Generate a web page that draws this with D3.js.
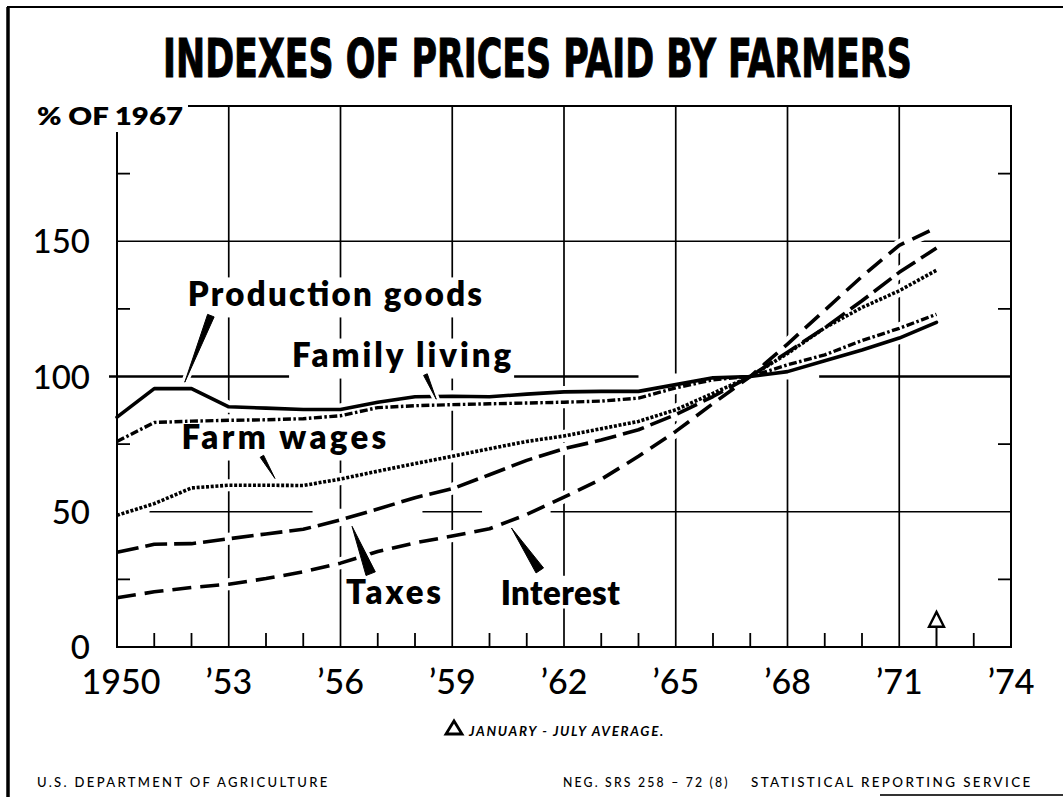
<!DOCTYPE html>
<html>
<head>
<meta charset="utf-8">
<script src="https://cdn.jsdelivr.net/npm/d3@7/dist/d3.min.js"></script>
<style>
  body { margin: 0; background: #fff; }
  svg { display: block; }
</style>
</head>
<body>
<div id="chart"></div>
<script>
// Data (1967 = 100)
const years = [1950, 1951, 1952, 1953, 1954, 1955, 1956, 1957, 1958, 1959, 1960, 1961,
               1962, 1963, 1964, 1965, 1966, 1967, 1968, 1969, 1970, 1971, 1972];
const productionGoods = [85, 95.5, 95.5, 88.8, 88.3, 87.8, 87.8, 90.5, 92.5, 92.7, 92.5, 93.5,
                         94.3, 94.5, 94.5, 97, 99.5, 100, 101.8, 105.8, 109.8, 114.2, 120];
const familyLiving = [76, 83, 83.5, 83.8, 84, 84.4, 85.5, 88.5, 89.2, 89.6, 89.9, 90.2,
                      90.5, 90.9, 92, 95.8, 98.8, 100, 104.3, 108, 113.3, 117.8, 123];
const farmWages = [48.7, 53, 58.8, 59.8, 59.8, 59.7, 62.1, 65, 67.8, 70.5, 73.3, 76,
                   78, 80.7, 83.4, 87.7, 93.8, 100, 108.5, 118, 125.5, 131.7, 139.3];
const taxes = [35, 38, 38.2, 40, 41.8, 43.5, 47, 51, 55.2, 58.5, 63.7, 69,
               73.3, 76.5, 80.3, 85.9, 92.6, 100, 109, 118, 128, 138.5, 147.5];
const interest = [18.2, 20.4, 22, 23.2, 25.3, 27.8, 31, 35.3, 38.5, 41, 43.7, 49,
                  55.4, 62, 70.5, 79.7, 90, 100, 112, 124.5, 137, 148.5, 155];

const seriesNames = ['Production goods', 'Family living', 'Farm wages', 'Taxes', 'Interest'];
const majorYears = [1950, 1953, 1956, 1959, 1962, 1965, 1968, 1971, 1974];
const yearLabels = ['1950', '\u201953', '\u201956', '\u201959', '\u201962', '\u201965', '\u201968', '\u201971', '\u201974'];
const minorYears = [1951, 1952, 1954, 1955, 1957, 1958, 1960, 1961, 1963, 1964, 1966, 1967, 1969, 1970, 1973];
const valueTicks = [0, 50, 100, 150];
const valueLabels = ['0', '50', '100', '150'];
const minorValues = [25, 75, 125, 175];
const partialYear = 1972; // January-July average

const width = 1063, height = 797;
const x = d3.scaleLinear().domain([1950, 1974]).range([117, 1011]);
const y = d3.scaleLinear().domain([0, 200]).range([647, 106]);

const svg = d3.select('#chart').append('svg')
    .attr('width', width)
    .attr('height', height);

svg.append('rect').attr('width', width).attr('height', height).attr('fill', '#fff');

// page frame
svg.append('line').attr('x1', 8).attr('x2', 8).attr('y1', 7).attr('y2', height)
    .attr('stroke', '#000').attr('stroke-width', 3.5);
svg.append('line').attr('x1', 7).attr('x2', width).attr('y1', 7).attr('y2', 7)
    .attr('stroke', '#000').attr('stroke-width', 2);
svg.append('line').attr('x1', 880).attr('x2', width).attr('y1', 795).attr('y2', 795)
    .attr('stroke', '#333').attr('stroke-width', 2);

// fit a text to a width by scaling it horizontally
function fitWidth(sel, left, w) {
    const natural = sel.node().getComputedTextLength();
    sel.attr('x', 0).attr('transform', `translate(${left},0) scale(${w / natural},1)`);
}

// title
const title = svg.append('text')
    .attr('y', 77)
    .style('font-family', '"Liberation Sans Narrow", "DejaVu Sans Condensed", "Roboto Condensed", sans-serif')
    .style('font-stretch', 'condensed')
    .style('font-weight', 700).style('font-size', '54px')
    .attr('fill', '#000').attr('stroke', '#000').attr('stroke-width', 1)
    .text('INDEXES OF PRICES PAID BY FARMERS');
fitWidth(title, 163, 749);

const plot = svg.append('g');

// grid
plot.selectAll('.vgrid')
    .data(majorYears.slice(1, -1))
    .enter().append('line')
    .attr('x1', d => x(d)).attr('x2', d => x(d))
    .attr('y1', y(200)).attr('y2', y(0))
    .attr('stroke', '#000').attr('stroke-width', 1.7);

plot.selectAll('.hgrid')
    .data([50, 100, 150])
    .enter().append('line')
    .attr('x1', d => d === 100 ? x(1950) - 8 : x(1950)).attr('x2', x(1974))
    .attr('y1', d => y(d)).attr('y2', d => y(d))
    .attr('stroke', '#000').attr('stroke-width', d => d === 100 ? 2.6 : 1.7);

// draughtsman's breaks in the grid
const gridBreaks = [
    { value: 50, from: 1950, to: 1950.87 },
    { value: 50, from: 1955.25, to: 1958.2 },
    { value: 50, from: 1959.8, to: 1961.64 },
    { value: 100, from: 1964.0, to: 1968.85 }
];
plot.selectAll('.gbreak')
    .data(gridBreaks)
    .enter().append('line')
    .attr('x1', d => x(d.from)).attr('x2', d => x(d.to))
    .attr('y1', d => y(d.value)).attr('y2', d => y(d.value))
    .attr('stroke', '#fff').attr('stroke-width', 6);

// series
const series = [productionGoods, familyLiving, farmWages, taxes, interest].map((vals, i) => ({
    name: seriesNames[i],
    values: vals.map((v, j) => ({ year: years[j], value: v }))
}));

const lineStyle = {
    'Production goods': { dash: null, w: 3.6, cap: 'round' },
    'Family living': { dash: '8,2.5,2.5,2.5', w: 3.4, cap: 'butt' },
    'Farm wages': { dash: '3,1.7', w: 3.6, cap: 'butt' },
    'Taxes': { dash: '22,7', w: 3.6, cap: 'butt' },
    'Interest': { dash: '19,9', w: 3.6, cap: 'butt' }
};

// label annotations (positions in data units)
const annotations = [
    { name: 'Production goods', from: 1951.9, to: 1959.8, at: 126, tip: [1951.82, 97.9], base: [1952.52, 122.5], w: 7 },
    { name: 'Family living', from: 1954.7, to: 1960.58, at: 103.4, tip: [1958.57, 91.6], base: [1958.28, 100.7], w: 4 },
    { name: 'Farm wages', from: 1951.73, to: 1957.23, at: 73.1, tip: [1954.24, 62.3], base: [1953.89, 70.5], w: 4 },
    { name: 'Taxes', from: 1956.15, to: 1958.7, at: 16, tip: [1956.31, 44.6], base: [1956.81, 27.1], w: 10 },
    { name: 'Interest', from: 1960.3, to: 1963.5, at: 15.7, tip: [1960.59, 44.0], base: [1961.35, 28.3], w: 9 }
];
const labelSize = 33;

plot.selectAll('.labelbg')
    .data(annotations)
    .enter().append('rect')
    .attr('x', d => x(d.from) - 3)
    .attr('width', d => x(d.to) - x(d.from) + 6)
    .attr('y', d => y(d.at) - labelSize * 0.72 - 5)
    .attr('height', d => labelSize * 0.72 + 5 + (/[gyp]/.test(d.name) ? labelSize * 0.22 + 4 : 4))
    .attr('fill', '#fff');

const line = d3.line()
    .x(d => x(d.year))
    .y(d => y(d.value));

svg.append('clipPath').attr('id', 'plotClip')
    .append('rect')
    .attr('x', x(1950)).attr('y', y(200))
    .attr('width', x(1974) - x(1950)).attr('height', y(0) - y(200));

// white halos that knock the grid out around each curve
plot.append('g').attr('clip-path', 'url(#plotClip)')
    .selectAll('path')
    .data(series)
    .enter().append('path')
    .attr('d', d => line(d.values))
    .attr('fill', 'none')
    .attr('stroke', '#fff')
    .attr('stroke-width', 12)
    .attr('stroke-linejoin', 'round');

// axes frame
plot.append('rect')
    .attr('x', x(1950)).attr('y', y(200))
    .attr('width', x(1974) - x(1950)).attr('height', y(0) - y(200))
    .attr('fill', 'none').attr('stroke', '#000').attr('stroke-width', 2);

// minor ticks
plot.selectAll('.xtick')
    .data(minorYears)
    .enter().append('line')
    .attr('x1', d => x(d)).attr('x2', d => x(d))
    .attr('y1', y(0)).attr('y2', y(0) - 14)
    .attr('stroke', '#000').attr('stroke-width', 1.8);

plot.selectAll('.ytickL')
    .data(minorValues)
    .enter().append('line')
    .attr('x1', x(1950)).attr('x2', x(1950) + 13)
    .attr('y1', d => y(d)).attr('y2', d => y(d))
    .attr('stroke', '#000').attr('stroke-width', 1.8);

plot.selectAll('.ytickR')
    .data(minorValues)
    .enter().append('line')
    .attr('x1', x(1974)).attr('x2', x(1974) - 13)
    .attr('y1', d => y(d)).attr('y2', d => y(d))
    .attr('stroke', '#000').attr('stroke-width', 1.8);

// "% OF 1967" sits over the corner of the frame
svg.append('rect').attr('x', 30).attr('y', 98).attr('width', 158).attr('height', 34).attr('fill', '#fff');
const unit = svg.append('text')
    .attr('y', 125)
    .style('font-family', 'Lato, "DejaVu Sans", sans-serif')
    .style('font-weight', 800).style('font-size', '24px')
    .text('% OF 1967');
fitWidth(unit, 37, 146);

// the curves
plot.append('g')
    .selectAll('path')
    .data(series)
    .enter().append('path')
    .attr('d', d => line(d.values))
    .attr('fill', 'none')
    .attr('stroke', '#000')
    .attr('stroke-width', d => lineStyle[d.name].w)
    .attr('stroke-dasharray', d => lineStyle[d.name].dash)
    .attr('stroke-linecap', d => lineStyle[d.name].cap)
    .attr('stroke-linejoin', 'round');

// wedge pointers from label to curve
function wedge(d) {
    const tx = x(d.tip[0]), ty = y(d.tip[1]);
    const bx = x(d.base[0]), by = y(d.base[1]);
    const len = Math.hypot(bx - tx, by - ty);
    const nx = -(by - ty) / len * d.w / 2, ny = (bx - tx) / len * d.w / 2;
    return `M${tx},${ty}L${bx + nx},${by + ny}L${bx - nx},${by - ny}Z`;
}
plot.selectAll('.ptrHalo')
    .data(annotations)
    .enter().append('path')
    .attr('d', wedge)
    .attr('fill', '#fff').attr('stroke', '#fff')
    .attr('stroke-width', 7).attr('stroke-linejoin', 'round');
plot.selectAll('.ptr')
    .data(annotations)
    .enter().append('path')
    .attr('d', wedge)
    .attr('fill', '#000').attr('stroke', '#000')
    .attr('stroke-width', 1).attr('stroke-linejoin', 'round');

// series labels
plot.selectAll('.label')
    .data(annotations)
    .enter().append('text')
    .attr('x', d => x(d.from)).attr('y', d => y(d.at))
    .attr('textLength', d => x(d.to) - x(d.from))
    .attr('lengthAdjust', 'spacing')
    .style('font-family', 'Lato, "DejaVu Sans", sans-serif')
    .style('font-weight', 800).style('font-size', labelSize + 'px')
    .text(d => d.name);

// tick labels
svg.selectAll('.ylab')
    .data(valueTicks)
    .enter().append('text')
    .attr('x', x(1950) - 27).attr('y', d => y(d) + 12)
    .attr('text-anchor', 'end')
    .style('font-family', 'Lato, "DejaVu Sans", sans-serif')
    .style('font-weight', 500).style('font-size', '33px')
    .text((d, i) => valueLabels[i]);

svg.selectAll('.xlab')
    .data(majorYears)
    .enter().append('text')
    .attr('x', d => x(d) + (d === 1950 ? 4 : 0)).attr('y', 694)
    .attr('text-anchor', 'middle')
    .style('font-family', 'Lato, "DejaVu Sans", sans-serif')
    .style('font-weight', 500).style('font-size', '34px')
    .text((d, i) => yearLabels[i]);

// partial-year marker
const triTop = y(13), triBot = y(7.5), tx = x(partialYear);
plot.append('line')
    .attr('x1', tx).attr('x2', tx).attr('y1', y(0)).attr('y2', triBot)
    .attr('stroke', '#000').attr('stroke-width', 2);
plot.append('path')
    .attr('d', `M${tx - 7.5},${triBot}L${tx + 7.5},${triBot}L${tx},${triTop}Z`)
    .attr('fill', '#fff').attr('stroke', '#000').attr('stroke-width', 2.4)
    .attr('stroke-linejoin', 'miter');

// footnote
svg.append('path')
    .attr('d', 'M446,734L462,734L454,721Z')
    .attr('fill', '#fff').attr('stroke', '#000').attr('stroke-width', 2.8);
const note = svg.append('text')
    .attr('y', 736)
    .style('font-family', 'Lato, "DejaVu Sans", sans-serif')
    .style('font-weight', 700).style('font-style', 'italic').style('font-size', '13px')
    .style('letter-spacing', '1.6px')
    .text('JANUARY - JULY AVERAGE.');
fitWidth(note, 469, 196);

// credits
const credits = [
    { text: 'U.S. DEPARTMENT OF AGRICULTURE', left: 37, w: 293 },
    { text: 'NEG. SRS 258 \u2013 72 (8)', left: 563, w: 167 },
    { text: 'STATISTICAL REPORTING SERVICE', left: 751, w: 282 }
];
credits.forEach(c => {
    const t = svg.append('text')
        .attr('y', 787)
        .style('font-family', 'Lato, "DejaVu Sans", sans-serif')
        .style('font-weight', 500).style('font-size', '14px')
        .style('letter-spacing', '2.5px')
        .text(c.text);
    fitWidth(t, c.left, c.w);
});
</script>
</body>
</html>
